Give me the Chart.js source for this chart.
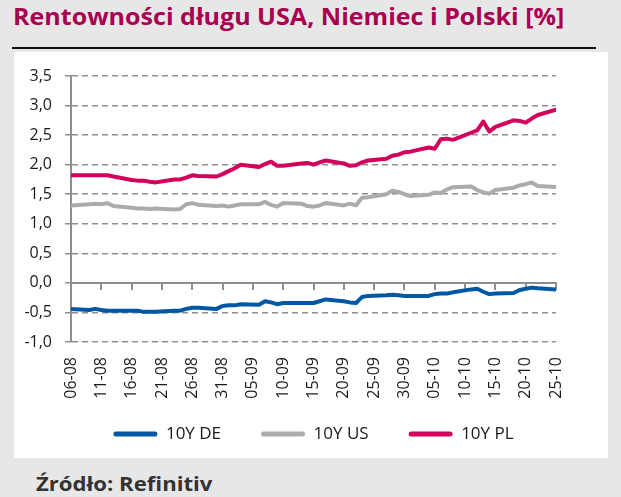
<!DOCTYPE html>
<html lang="pl">
<head>
<meta charset="utf-8">
<title>Rentowności długu USA, Niemiec i Polski</title>
<script src="https://cdn.jsdelivr.net/npm/chart.js@4.4.1/dist/chart.umd.min.js"></script>
<style>
  html, body { margin: 0; padding: 0; }
  body { width: 621px; height: 497px; background: #e7e7e8; position: relative; overflow: hidden; font-family: 'Open Sans', sans-serif; }
  #title { position: absolute; left: 13px; top: 6px; font-size: 22.5px; font-weight: 700; color: #a8004f; white-space: nowrap; transform-origin: 0 0; line-height: 1; }
  #rule { position: absolute; left: 12px; top: 47px; width: 584px; height: 2px; background: #111; }
  #panel { position: absolute; left: 14px; top: 52px; width: 594px; height: 406px; background: #fff; }
  #source { position: absolute; left: 36px; top: 474px; font-size: 20px; font-weight: 700; color: #333; white-space: nowrap; transform-origin: 0 0; line-height: 1; }
</style>
</head>
<body>
<div id="title">Rentowności długu USA, Niemiec i Polski [%]</div>
<div id="rule"></div>
<div id="panel"><canvas id="yields" width="594" height="406"></canvas></div>
<div id="source">Źródło: Refinitiv</div>

<script>
// Trading days (2021), x axis runs 06-08 .. 25-10
const startDate = '2021-08-06';
const dates = [
    '2021-08-06',
    '2021-08-09', '2021-08-10', '2021-08-11', '2021-08-12', '2021-08-13',
    '2021-08-16', '2021-08-17', '2021-08-18', '2021-08-19', '2021-08-20',
    '2021-08-23', '2021-08-24', '2021-08-25', '2021-08-26', '2021-08-27',
    '2021-08-30', '2021-08-31', '2021-09-01', '2021-09-02', '2021-09-03',
    '2021-09-06', '2021-09-07', '2021-09-08', '2021-09-09', '2021-09-10',
    '2021-09-13', '2021-09-14', '2021-09-15', '2021-09-16', '2021-09-17',
    '2021-09-20', '2021-09-21', '2021-09-22', '2021-09-23', '2021-09-24',
    '2021-09-27', '2021-09-28', '2021-09-29', '2021-09-30', '2021-10-01',
    '2021-10-04', '2021-10-05', '2021-10-06', '2021-10-07', '2021-10-08',
    '2021-10-11', '2021-10-12', '2021-10-13', '2021-10-14', '2021-10-15',
    '2021-10-18', '2021-10-19', '2021-10-20', '2021-10-21', '2021-10-22',
    '2021-10-25'
];

// 10Y yields [%]
const yieldDE = [
    -0.44,
    -0.46, -0.44, -0.46, -0.47, -0.47,
    -0.47, -0.47, -0.49, -0.49, -0.49,
    -0.47, -0.47, -0.44, -0.42, -0.42,
    -0.44, -0.39, -0.38, -0.38, -0.36,
    -0.37, -0.31, -0.33, -0.36, -0.34,
    -0.34, -0.34, -0.34, -0.31, -0.28,
    -0.31, -0.33, -0.34, -0.24, -0.22,
    -0.21, -0.20, -0.21, -0.22, -0.22,
    -0.22, -0.19, -0.18, -0.18, -0.16,
    -0.11, -0.10, -0.15, -0.19, -0.18,
    -0.17, -0.12, -0.10, -0.08, -0.09,
    -0.11
];
const yieldUS = [
    1.31,
    1.33, 1.34, 1.33, 1.35, 1.30,
    1.27, 1.26, 1.26, 1.25, 1.26,
    1.24, 1.25, 1.33, 1.35, 1.32,
    1.30, 1.31, 1.29, 1.31, 1.33,
    1.33, 1.37, 1.32, 1.29, 1.35,
    1.34, 1.30, 1.29, 1.31, 1.35,
    1.31, 1.34, 1.31, 1.44, 1.45,
    1.50, 1.56, 1.54, 1.50, 1.47,
    1.49, 1.53, 1.52, 1.58, 1.62,
    1.63, 1.57, 1.53, 1.51, 1.57,
    1.61, 1.65, 1.67, 1.70, 1.64,
    1.62
];
const yieldPL = [
    1.82,
    1.82, 1.82, 1.82, 1.82, 1.80,
    1.74, 1.73, 1.73, 1.71, 1.70,
    1.75, 1.75, 1.78, 1.82, 1.81,
    1.80, 1.84, 1.89, 1.94, 2.00,
    1.96, 2.01, 2.05, 1.98, 1.98,
    2.02, 2.03, 2.00, 2.04, 2.07,
    2.02, 1.98, 1.99, 2.04, 2.07,
    2.10, 2.15, 2.17, 2.21, 2.22,
    2.29, 2.27, 2.43, 2.44, 2.42,
    2.54, 2.58, 2.73, 2.56, 2.64,
    2.75, 2.74, 2.71, 2.78, 2.84,
    2.93
];

// x axis labels, one every 5 days
const tickLabels = ['06-08', '11-08', '16-08', '21-08', '26-08', '31-08', '05-09', '10-09',
    '15-09', '20-09', '25-09', '30-09', '05-10', '10-10', '15-10', '20-10', '25-10'];

const seriesNames = ['10Y DE', '10Y US', '10Y PL'];
const seriesColors = ['#0058a5', '#ababab', '#d3005c'];

// Fit the header and footer text to the widths in the source picture
function fitWidth(id, width) {
    const el = document.getElementById(id);
    el.style.transform = `scaleX(${width / el.offsetWidth})`;
}
fitWidth('title', 551);
fitWidth('source', 176);

// Days since start, used as the x value of each point
function dayOffset(d) {
    return Math.round((Date.parse(d) - Date.parse(startDate)) / 86400000);
}

function toPoints(values) {
    return values.map((v, i) => ({ x: dayOffset(dates[i]), y: v }));
}

// The date labels hang below a short x box (the legend sits close under them),
// so let their clip area run to the bottom of the canvas
const labelRoom = {
    id: 'labelRoom',
    afterLayout(chart) {
        chart.scales.x.bottom = chart.height;
    }
};

const lastDay = (tickLabels.length - 1) * 5;
const gridGray = '#8e8e8e';
const textColor = '#1a1a1a';

new Chart(document.getElementById('yields'), {
    type: 'line',
    data: {
        datasets: [yieldDE, yieldUS, yieldPL].map((values, i) => ({
            label: seriesNames[i],
            data: toPoints(values),
            borderColor: seriesColors[i],
            backgroundColor: seriesColors[i],
            borderWidth: 4,
            pointRadius: 0,
            tension: 0,
            borderCapStyle: 'round',
            borderJoinStyle: 'round'
        }))
    },
    plugins: [labelRoom],
    options: {
        responsive: false,
        animation: false,
        layout: {
            padding: { top: 24, right: 52, bottom: 5.5, left: 0 }
        },
        plugins: {
            tooltip: { enabled: false },
            legend: {
                position: 'bottom',
                fullSize: false,
                labels: {
                    boxWidth: 44,
                    boxHeight: 5,
                    padding: 40,
                    useBorderRadius: true,
                    borderRadius: 2.5,
                    color: textColor,
                    font: { family: 'Open Sans', size: 17 },
                    generateLabels: chart => Chart.defaults.plugins.legend.labels.generateLabels(chart)
                        .map(item => ({ ...item, lineWidth: 0, fillStyle: item.strokeStyle }))
                }
            }
        },
        scales: {
            x: {
                type: 'linear',
                min: 0,
                max: lastDay,
                grid: { display: false, drawTicks: false },
                border: { display: false },
                ticks: {
                    stepSize: 5,
                    autoSkip: false,
                    minRotation: 90,
                    maxRotation: 90,
                    padding: 15,
                    color: textColor,
                    font: { family: 'Open Sans', size: 16 },
                    callback: value => tickLabels[Math.round(value / 5)]
                },
                afterFit: scale => { scale.height = 43.5; }
            },
            // horizontal axis line crossing at 0 with tick marks
            x0: {
                axis: 'x',
                type: 'linear',
                position: { y: 0 },
                min: 0,
                max: lastDay,
                ticks: { stepSize: 5, display: false },
                grid: { drawOnChartArea: false, drawTicks: true, tickLength: 6, color: gridGray, lineWidth: 2 },
                border: { display: true, color: gridGray, width: 2 }
            },
            y: {
                min: -1,
                max: 3.5,
                ticks: {
                    stepSize: 0.5,
                    padding: 13,
                    color: textColor,
                    font: { family: 'Open Sans', size: 16 },
                    callback: value => value.toFixed(1).replace('.', ',')
                },
                grid: { color: gridGray, lineWidth: 1.5, tickLength: 6, tickBorderDash: [6, 4] },
                border: { display: true, color: gridGray, width: 2, dash: [6, 4] },
                afterFit: scale => { scale.width = 57; }
            }
        }
    }
});
</script>
</body>
</html>
